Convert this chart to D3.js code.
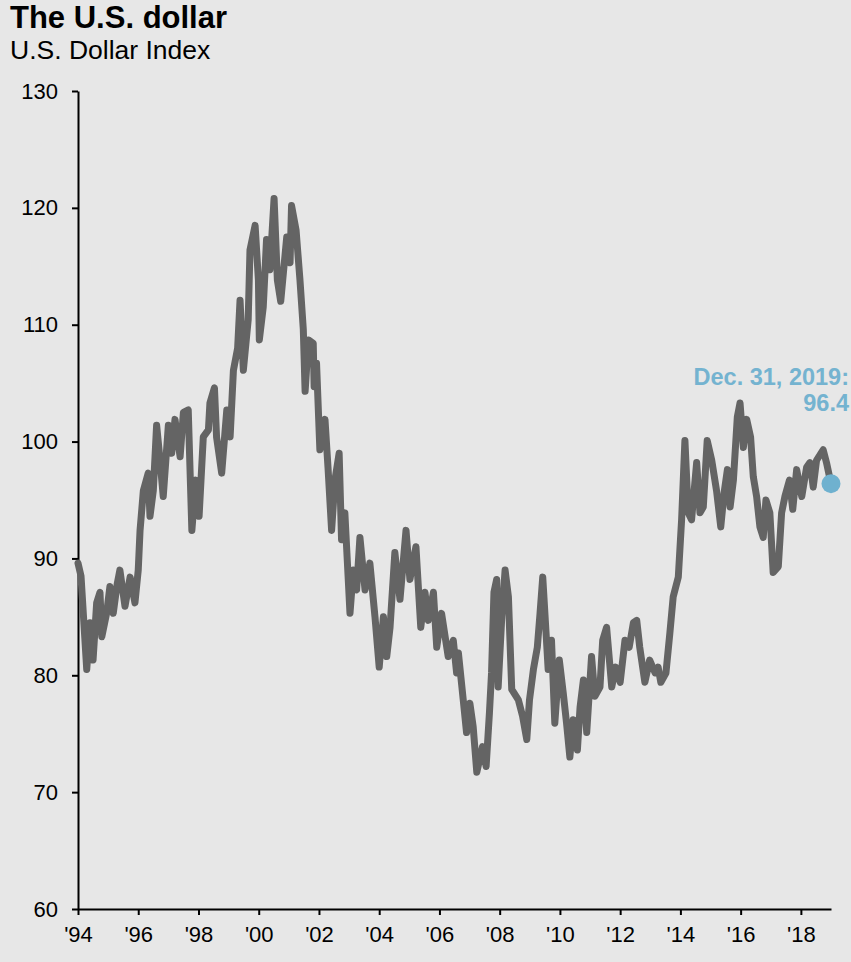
<!DOCTYPE html>
<html>
<head>
<meta charset="utf-8">
<script src="https://cdn.jsdelivr.net/npm/d3@7"></script>
<style>
  html, body { margin: 0; padding: 0; background: #e7e7e7; }
  svg { display: block; font-family: "Liberation Sans", Arial, sans-serif; }
</style>
</head>
<body>
<svg id="drawarea"></svg>
<script>
// data (decimal years on the chart's own axis)
var dates = [
  1994.00, 1994.10, 1994.29, 1994.40, 1994.50, 1994.62, 1994.73, 1994.79, 1994.95, 1995.06,
  1995.17, 1995.30, 1995.39, 1995.56, 1995.73, 1995.89, 1996.00, 1996.06, 1996.17, 1996.33,
  1996.39, 1996.50, 1996.61, 1996.72, 1996.83, 1997.00, 1997.11, 1997.22, 1997.39, 1997.50,
  1997.66, 1997.78, 1997.91, 1998.02, 1998.16, 1998.33, 1998.38, 1998.53, 1998.60, 1998.77,
  1998.94, 1999.05, 1999.16, 1999.30, 1999.38, 1999.49, 1999.65, 1999.71, 1999.88, 1999.99,
  2000.02, 2000.15, 2000.26, 2000.37, 2000.51, 2000.62, 2000.73, 2000.93, 2001.04, 2001.09,
  2001.24, 2001.37, 2001.48, 2001.54, 2001.65, 2001.81, 2001.84, 2001.92, 2002.03, 2002.20,
  2002.30, 2002.42, 2002.53, 2002.67, 2002.75, 2002.86, 2003.03, 2003.14, 2003.25, 2003.36,
  2003.53, 2003.69, 2003.86, 2004.00, 2004.14, 2004.25, 2004.36, 2004.52, 2004.69, 2004.89,
  2005.02, 2005.22, 2005.38, 2005.52, 2005.63, 2005.80, 2005.91, 2006.07, 2006.29, 2006.46,
  2006.57, 2006.63, 2006.79, 2006.90, 2007.01, 2007.12, 2007.24, 2007.43, 2007.55, 2007.66,
  2007.73, 2007.81, 2007.90, 2007.95, 2008.07, 2008.18, 2008.29, 2008.40, 2008.62, 2008.76,
  2008.90, 2008.99, 2009.12, 2009.25, 2009.34, 2009.43, 2009.54, 2009.61, 2009.72, 2009.83,
  2009.98, 2010.11, 2010.22, 2010.33, 2010.44, 2010.58, 2010.67, 2010.78, 2010.89, 2011.05,
  2011.16, 2011.33, 2011.42, 2011.55, 2011.72, 2011.85, 2012.00, 2012.16, 2012.30, 2012.44,
  2012.55, 2012.65, 2012.82, 2012.98, 2013.16, 2013.26, 2013.35, 2013.52, 2013.65, 2013.76,
  2013.93, 2014.04, 2014.15, 2014.26, 2014.37, 2014.54, 2014.65, 2014.76, 2014.89, 2015.04,
  2015.20, 2015.34, 2015.45, 2015.56, 2015.65, 2015.76, 2015.89, 2015.98, 2016.09, 2016.20,
  2016.33, 2016.42, 2016.53, 2016.64, 2016.75, 2016.84, 2016.97, 2017.08, 2017.25, 2017.36,
  2017.47, 2017.62, 2017.73, 2017.86, 2018.03, 2018.19, 2018.30, 2018.41, 2018.52, 2018.74,
  2018.85, 2019.00
];
var values = [
  89.6, 88.5, 80.5, 84.5, 81.3, 86.2, 87.1, 83.3, 85.3, 87.6,
  85.3, 87.8, 89.0, 85.9, 88.4, 86.2, 89.0, 92.4, 95.8, 97.3,
  93.6, 95.8, 101.4, 98.5, 95.3, 101.4, 99.0, 101.9, 98.7, 102.5,
  102.7, 92.4, 96.7, 93.6, 100.4, 101.0, 103.3, 104.6, 100.4, 97.3,
  102.7, 100.4, 106.1, 108.0, 112.1, 106.1, 110.4, 116.4, 118.5, 113.8,
  108.7, 111.5, 117.3, 114.7, 120.8, 113.8, 112.0, 117.5, 115.3, 120.2,
  118.1, 113.8, 109.6, 104.3, 108.7, 108.4, 104.7, 106.7, 99.3, 101.9,
  97.8, 92.4, 96.7, 99.0, 91.6, 93.9, 85.3, 89.0, 87.3, 91.8,
  87.3, 89.6, 85.0, 80.7, 85.0, 81.6, 84.1, 90.5, 86.5, 92.4,
  88.2, 91.0, 84.1, 87.1, 84.7, 87.1, 82.4, 85.3, 81.6, 83.0,
  80.2, 81.9, 77.9, 75.1, 77.6, 75.6, 71.7, 73.9, 72.2, 76.8,
  80.2, 87.1, 88.2, 79.0, 85.0, 89.0, 86.7, 78.8, 77.9, 76.5,
  74.5, 77.9, 80.5, 82.4, 85.3, 88.4, 83.6, 80.5, 83.0, 75.9,
  81.3, 78.5, 75.9, 73.0, 76.2, 73.6, 77.3, 79.6, 75.1, 81.6,
  78.2, 79.0, 83.0, 84.1, 79.0, 80.7, 79.4, 83.0, 82.4, 84.5,
  84.7, 82.4, 79.4, 81.3, 80.2, 80.7, 79.4, 80.2, 83.6, 86.7,
  88.4, 93.3, 100.1, 93.9, 93.3, 98.2, 93.9, 94.4, 100.1, 98.4,
  95.8, 92.7, 95.6, 97.6, 94.4, 96.7, 102.1, 103.3, 99.5, 101.9,
  100.4, 97.0, 95.3, 92.7, 91.8, 95.0, 93.9, 88.8, 89.3, 93.9,
  95.3, 96.7, 94.2, 97.6, 95.3, 97.8, 98.2, 96.1, 98.4, 99.3,
  98.2, 96.4
];
var yTicks = [60, 70, 80, 90, 100, 110, 120, 130];
var xTicks = [1994, 1996, 1998, 2000, 2002, 2004, 2006, 2008, 2010, 2012, 2014, 2016, 2018];

var title = "The U.S. dollar";
var subtitle = "U.S. Dollar Index";
var noteLines = ["Dec. 31, 2019:", "96.4"];

function init(){
    var width = 851, height = 962;
    var margin = {top: 91, right: 20, bottom: 53, left: 78};

    var svg = d3.select("#drawarea").attr("width", width).attr("height", height);

    svg.append("rect").attr("width", width).attr("height", height).attr("fill", "#e7e7e7");

    // 見出し
    svg.append("text").attr("x", 10).attr("y", 28)
        .attr("font-size", 31).attr("font-weight", "bold").attr("fill", "#000")
        .text(title);
    svg.append("text").attr("x", 10).attr("y", 59)
        .attr("font-size", 26.5).attr("fill", "#000")
        .text(subtitle);

    // 値域定義
    var x = d3.scaleLinear().domain([1994, 2019]).range([margin.left, width - margin.right]);
    var y = d3.scaleLinear().domain([60, 130]).range([height - margin.bottom, margin.top]);

    var rows = dates.map(function(d, i){ return {t: d, v: values[i]}; });

    // 軸
    var yAxis = d3.axisLeft(y).tickValues(yTicks).tickSize(6).tickPadding(14).tickSizeOuter(0);
    var gy = svg.append("g").attr("transform", "translate(" + margin.left + ",0)").call(yAxis);

    var xAxis = d3.axisBottom(x).tickValues(xTicks).tickSize(6).tickPadding(11).tickSizeOuter(0)
        .tickFormat(function(d){ return "'" + d3.format("02d")(d % 100); });
    var gx = svg.append("g").attr("transform", "translate(0," + (height - margin.bottom) + ")").call(xAxis);

    [gy, gx].forEach(function(g){
        g.select(".domain").attr("stroke", "#000").attr("stroke-width", 2);
        g.selectAll(".tick line").attr("stroke", "#000").attr("stroke-width", 2);
        g.selectAll(".tick text").attr("fill", "#000").attr("font-size", 22)
            .attr("font-family", "'Liberation Sans', Arial, sans-serif");
    });

    // 線
    var line = d3.line()
        .x(function(d){ return x(d.t); })
        .y(function(d){ return y(d.v); });

    svg.append("path")
        .datum(rows)
        .attr("d", line)
        .attr("fill", "none")
        .attr("stroke", "#646464")
        .attr("stroke-width", 7)
        .attr("stroke-linejoin", "round")
        .attr("stroke-linecap", "round");

    // 最終値
    var last = rows[rows.length - 1];
    svg.append("circle")
        .attr("cx", x(last.t)).attr("cy", y(last.v)).attr("r", 9.5)
        .attr("fill", "#6fb1cf");

    svg.append("text")
        .attr("x", 849).attr("y", 385)
        .attr("text-anchor", "end")
        .attr("font-size", 23.5).attr("font-weight", "bold").attr("fill", "#74b3d0")
        .selectAll("tspan")
        .data(noteLines)
        .enter().append("tspan")
        .attr("x", 849)
        .attr("dy", function(d, i){ return i === 0 ? 0 : 26; })
        .text(function(d){ return d; });
}

init();
</script>
</body>
</html>
